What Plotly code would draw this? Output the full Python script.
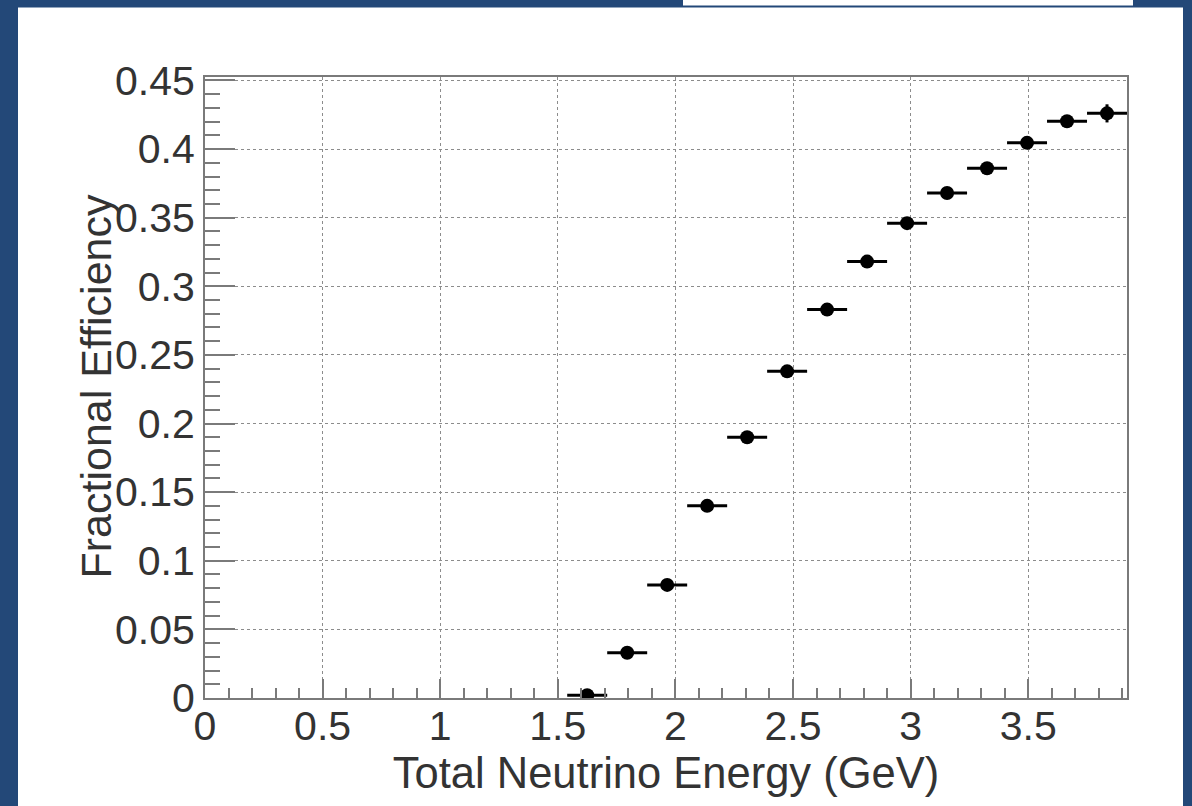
import plotly.graph_objects as go

# ---- data ----
energy = [1.625, 1.795, 1.965, 2.135, 2.305, 2.475, 2.645, 2.815, 2.985, 3.155, 3.325, 3.495, 3.665, 3.835]
energy_halfwidth = [0.085] * 14
efficiency = [0.002, 0.033, 0.0824, 0.140, 0.190, 0.238, 0.283, 0.318, 0.346, 0.368, 0.386, 0.4045, 0.4203, 0.426]
efficiency_err = [0.001, 0.002, 0.002, 0.003, 0.003, 0.003, 0.003, 0.003, 0.003, 0.003, 0.003, 0.003, 0.004, 0.0066]

x_tickvals = [0, 0.5, 1, 1.5, 2, 2.5, 3, 3.5]
x_ticktext = ["0", "0.5", "1", "1.5", "2", "2.5", "3", "3.5"]
y_tickvals = [0, 0.05, 0.1, 0.15, 0.2, 0.25, 0.3, 0.35, 0.4, 0.45]
y_ticktext = ["0", "0.05", "0.1", "0.15", "0.2", "0.25", "0.3", "0.35", "0.4", "0.45"]

x_title = "Total Neutrino Energy (GeV)"
y_title = "Fractional Efficiency"

# ---- layout geometry ----
W, H = 1192, 806
L, R, T, B = 205, 65, 77, 108
BLUE = "#234878"
AXIS = "#7a7a7a"
TXT = "#333333"
FONT = "Liberation Sans, Arial, sans-serif"


def px_x(p):
    return (p - L) / (W - L - R)


def px_y(p):
    return (H - B - p) / (H - T - B)


fig = go.Figure()
fig.add_trace(go.Scatter(
    x=energy, y=efficiency, mode="markers",
    marker=dict(color="black", size=14, symbol="circle"),
    error_x=dict(type="data", array=energy_halfwidth, color="black", thickness=3, width=0),
    error_y=dict(type="data", array=efficiency_err, color="black", thickness=3, width=0),
    showlegend=False,
))

shapes = [
    # white panel
    dict(type="rect", xref="paper", yref="paper", layer="below",
         x0=px_x(18), x1=px_x(1183), y0=px_y(H + 5), y1=px_y(7.5),
         fillcolor="white", line=dict(width=0)),
    # small white box at the top edge
    dict(type="rect", xref="paper", yref="paper", layer="below",
         x0=px_x(683), x1=px_x(1133), y0=px_y(5.5), y1=px_y(-5),
         fillcolor="white", line=dict(width=0)),
]

axis_common = dict(
    showline=True, linecolor=AXIS, linewidth=2, mirror=True,
    ticks="inside", tickcolor=AXIS, tickwidth=2,
    showgrid=True, gridcolor="#8c8c8c", gridwidth=1, griddash="dot",
    zeroline=False,
    tickfont=dict(family=FONT, size=41, color=TXT),
)

fig.update_layout(
    width=W, height=H,
    margin=dict(l=L, r=R, t=T, b=B, pad=0),
    paper_bgcolor=BLUE, plot_bgcolor="white",
    shapes=shapes,
    xaxis=dict(
        range=[0, 3.92], tickvals=x_tickvals, ticktext=x_ticktext, ticklen=19,
        ticklabelstandoff=-9,
        minor=dict(dtick=0.1, tick0=0, ticks="inside", ticklen=10, tickcolor=AXIS, tickwidth=2, showgrid=False),
        title=dict(text=x_title, font=dict(family=FONT, size=43.5, color=TXT), standoff=0),
        automargin=False,
        **axis_common,
    ),
    yaxis=dict(
        range=[0, 0.4525], tickvals=y_tickvals, ticktext=y_ticktext, ticklen=30,
        minor=dict(dtick=0.01, tick0=0, ticks="inside", ticklen=15, tickcolor=AXIS, tickwidth=2, showgrid=False),
        automargin=False,
        **axis_common,
    ),
    annotations=[
        dict(text=y_title, xref="paper", yref="paper", x=px_x(95), y=px_y(386.5),
             xanchor="center", yanchor="middle", textangle=-90, showarrow=False,
             font=dict(family=FONT, size=43, color=TXT)),
    ],
)

fig.write_html("out.html", config={"displayModeBar": False},
               post_script="document.body.style.margin='0';document.body.style.overflow='hidden';")
